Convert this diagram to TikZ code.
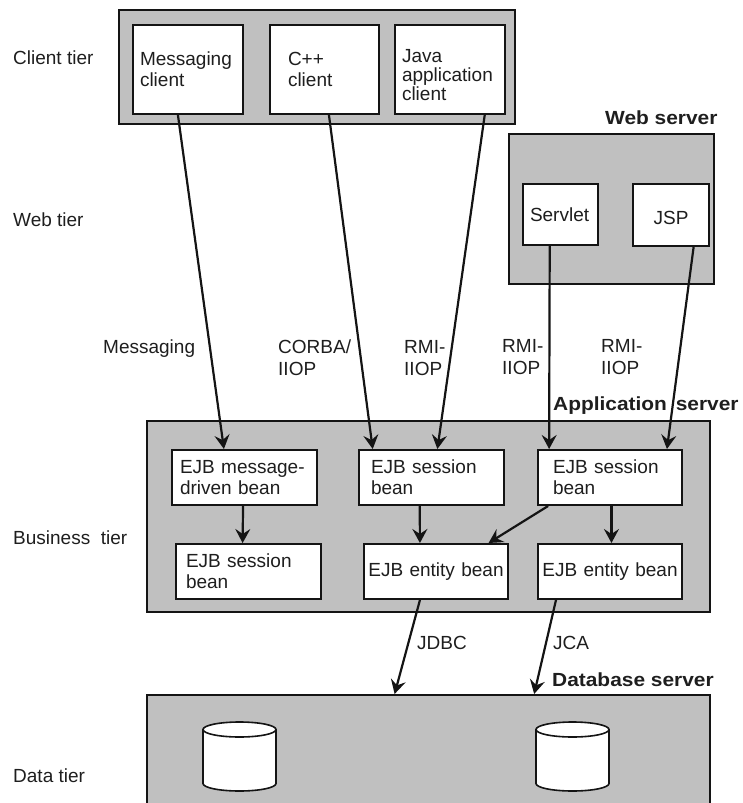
\documentclass[tikz,border=0pt]{standalone}
\usepackage{fontspec}
\setmainfont{Liberation Sans}
\usepackage{graphicx}
\usetikzlibrary{arrows.meta,calc}

\definecolor{panelgray}{HTML}{C0C0C0}
\definecolor{ink}{HTML}{141414}
\definecolor{txt}{HTML}{1E1E1E}

% bold headings are set slightly wide
\newcommand\widetitle[1]{\scalebox{1.1}[1]{#1}}

\begin{document}
\begin{tikzpicture}[x=1pt,y=-1pt,
  every node/.style={font=\fontsize{19}{21}\selectfont, text=txt},
  panel/.style={draw=ink, line width=2pt, fill=panelgray, anchor=north west, inner sep=0pt},
  card/.style={draw=ink, line width=2pt, fill=white, anchor=north west, align=left, inner ysep=0pt},
  lbl/.style={anchor=base west, inner sep=0pt},
  heading/.style={anchor=base west, inner sep=0pt, font=\fontsize{19}{21}\selectfont\bfseries},
  link/.style={draw=ink, line width=2.2pt, -{Stealth[length=14pt,width=15pt,inset=5pt]}},
  drum/.style={fill=white, draw=ink, line width=1.6pt},
]
\useasboundingbox (0,0) rectangle (743,803);

% ---------- panels ----------
\node[panel, minimum width=396pt, minimum height=114pt] (clients) at (118,9) {};
\node[panel, minimum width=205pt, minimum height=150pt] (websrv) at (508,133) {};
\node[panel, minimum width=563pt, minimum height=191pt] (appsrv) at (146,420) {};
\node[panel, minimum width=563pt, minimum height=111pt] (dbsrv) at (146,694) {};

% ---------- client tier ----------
\node[card, minimum width=110pt, minimum height=89pt, text width=96pt, inner xsep=7pt] (msgc) at (132,24) {Messaging\\client};
\node[card, minimum width=109pt, minimum height=89pt, text width=73pt, inner xsep=18pt] (cppc) at (269,24) {C++\\client};
\node[card, minimum width=110pt, minimum height=89pt, text width=96pt, inner xsep=7pt,
      font=\fontsize{19}{19}\selectfont] (javac) at (394,24) {\rule{0pt}{24pt}Java\\application\\client};

% ---------- web tier ----------
\node[card, minimum width=75pt, minimum height=61pt, text width=61pt, inner xsep=7pt] (servlet) at (522,183) {Servlet};
\node[card, minimum width=76pt, minimum height=62pt, text width=64pt, inner xsep=6pt, align=center] (jsp) at (632,183) {\rule{0pt}{20pt}JSP};

% ---------- business tier ----------
\node[card, minimum width=145pt, minimum height=55pt, text width=129pt, inner xsep=8pt] (mdb) at (171,449) {EJB message-\\driven bean};
\node[card, minimum width=145pt, minimum height=55pt, text width=125pt, inner xsep=10pt] (sessl) at (175,543) {EJB session\\bean};
\node[card, minimum width=145pt, minimum height=55pt, text width=121pt, inner xsep=12pt] (sessm) at (358,449) {EJB session\\bean};
\node[card, minimum width=144pt, minimum height=55pt, text width=136pt, inner xsep=4pt, align=center] (entm) at (363,543) {EJB entity bean};
\node[card, minimum width=144pt, minimum height=55pt, text width=114pt, inner xsep=15pt] (sessr) at (537,449) {EJB session\\bean};
\node[card, minimum width=144pt, minimum height=55pt, text width=136pt, inner xsep=4pt, align=center] (entr) at (537,543) {EJB entity bean};

% ---------- tier names ----------
\node[lbl] (tclient) at (13,64) {Client tier};
\node[lbl] (tweb) at (13,226) {Web tier};
\node[lbl] (tbiz) at (13,544) {Business~~tier};
\node[lbl] (tdata) at (13,782) {Data tier};

% ---------- server headings ----------
\node[heading] (hweb) at (605,124) {\widetitle{Web server}};
\node[heading] (happ) at (553,410) {\widetitle{Application\hspace{8pt}server}};
\node[heading] (hdb) at (552,686) {\widetitle{Database server}};

% ---------- protocol labels ----------
\node[lbl] (pmsg) at (103,353) {Messaging};
\node[lbl] (pcorba) at (278,353) {CORBA/};
\node[lbl] (pcorbab) at ([yshift=-22pt]pcorba.base west) {IIOP};
\node[lbl] (prmia) at (404,353) {RMI-};
\node[lbl] (prmiab) at ([yshift=-22pt]prmia.base west) {IIOP};
\node[lbl] (prmib) at (502,352) {RMI-};
\node[lbl] (prmibb) at ([yshift=-22pt]prmib.base west) {IIOP};
\node[lbl] (prmic) at (601,352) {RMI-};
\node[lbl] (prmicb) at ([yshift=-22pt]prmic.base west) {IIOP};
\node[lbl] (pjdbc) at (417,649) {JDBC};
\node[lbl] (pjca) at (553,649) {JCA};

% ---------- connectors ----------
\draw[link] ($(msgc.south west)!0.41!(msgc.south east)$) -- ($(mdb.north west)!0.36!(mdb.north east)$);
\draw[link] ($(cppc.south west)!0.54!(cppc.south east)$) -- ($(sessm.north west)!0.10!(sessm.north east)$);
\draw[link] ($(javac.south west)!0.81!(javac.south east)$) -- ($(sessm.north west)!0.54!(sessm.north east)$);
\draw[link] ($(servlet.south west)!0.36!(servlet.south east)$) -- ($(sessr.north west)!0.083!(sessr.north east)$);
\draw[link] ($(jsp.south west)!0.79!(jsp.south east)$) -- ($(sessr.north west)!0.89!(sessr.north east)$);

\draw[link] ($(mdb.south west)!0.49!(mdb.south east)$) -- ($(sessl.north west)!0.46!(sessl.north east)$);
\draw[link] ($(sessm.south west)!0.42!(sessm.south east)$) -- ($(entm.north west)!0.39!(entm.north east)$);
\draw[link] ($(sessr.south west)!0.076!(sessr.south east)$) -- ($(entm.north west)!0.86!(entm.north east)$);
\draw[link] ($(sessr.south west)!0.51!(sessr.south east)$) -- ($(entr.north west)!0.51!(entr.north east)$);

\draw[link] ($(entm.south west)!0.39!(entm.south east)$) -- ($(dbsrv.north west)!0.44!(dbsrv.north east)$);
\draw[link] ($(entr.south west)!0.13!(entr.south east)$) -- ($(dbsrv.north west)!0.687!(dbsrv.north east)$);

% ---------- databases ----------
\foreach \cx in {239.5,572.5}{
  \path[drum] ({\cx-36.5},729.5) -- ({\cx-36.5},783.5)
    arc[start angle=180,end angle=360,x radius=36.5pt,y radius=7.5pt]
    -- ({\cx+36.5},729.5)
    arc[start angle=0,end angle=180,x radius=36.5pt,y radius=7.5pt] -- cycle;
  \draw[drum, fill=none] ({\cx-36.5},729.5)
    arc[start angle=180,end angle=360,x radius=36.5pt,y radius=7.5pt];
}
\end{tikzpicture}
\end{document}
